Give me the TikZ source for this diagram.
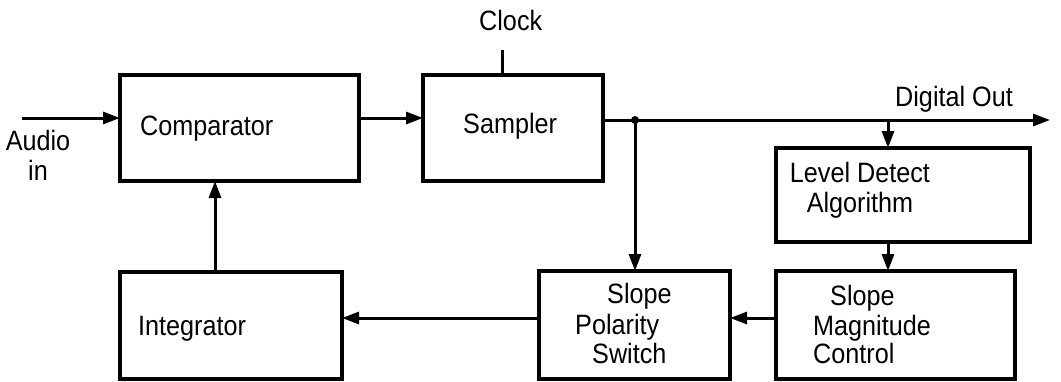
\documentclass[tikz,border=0pt]{standalone}
\usepackage{fontspec}
\setmainfont{Liberation Sans}[FakeStretch=0.9]
\usetikzlibrary{arrows.meta}
\begin{document}
\begin{tikzpicture}[x=1pt,y=-1pt,
  box/.style={draw, line width=3.2pt, inner sep=0pt, outer sep=0pt},
  conn/.style={line width=3pt},
  arr/.style={conn, -{Triangle[length=17pt,width=12pt]}},
  lbl/.style={anchor=base west, inner sep=0pt, font=\fontsize{28}{30}\selectfont},
  lblc/.style={anchor=base, inner sep=0pt, align=center, font=\fontsize{28}{30}\selectfont}]
\useasboundingbox (0,0) rectangle (1061,381);
% boxes
\node[box, minimum width=239pt, minimum height=106pt] (comp) at (239.5,128) {};
\node[box, minimum width=180pt, minimum height=106pt] (samp) at (513,128) {};
\node[box, minimum width=254pt, minimum height=94pt] (level) at (903,195) {};
\node[box, minimum width=239pt, minimum height=108pt] (mag) at (895.5,325) {};
\node[box, minimum width=191pt, minimum height=108pt] (pol) at (634.5,325) {};
\node[box, minimum width=222pt, minimum height=107pt] (integ) at (231,325.5) {};
% texts
\node[lbl] (tcomp) at (140,135) {Comparator};
\node[lbl] (tsamp) at (463,133) {Sampler};
\node[lbl] (tclock) at (479,30) {Clock};
\node[lbl] (tdout) at (895,106) {Digital Out};
\node[lblc] (taudio) at (38,180) {Audio\\in};
\node[lblc] (tlevel) at (860,212) {Level Detect\\Algorithm};
\node[lbl] (tmag1) at (830,305) {Slope};
\node[lbl] (tmag2) at (813,335) {Magnitude};
\node[lbl] (tmag3) at (813,363) {Control};
\node[lbl] (tpol1) at (607,303) {Slope};
\node[lbl] (tpol2) at (575,334) {Polarity};
\node[lbl] (tpol3) at (592,363) {Switch};
\node[lbl] (tint) at (138,335) {Integrator};
% helper coordinates
\coordinate (ain) at (22,118);
\coordinate (clk) at (502,50);
\coordinate (dout) at (1050,120);
\coordinate (j) at (635,120);
\coordinate (t1) at (888,120);
\coordinate (row) at (0,318);
\coordinate (col) at (215,0);
% connectors
\draw[arr] (ain) -- (ain -| comp.west);
\draw[arr] (comp.east |- ain) -- (samp.west |- ain);
\draw[conn] (samp.north -| clk) -- (clk);
\draw[arr] (samp.east |- dout) -- (dout);
\fill (j) circle (4pt);
\draw[arr] (j) -- (j |- pol.north);
\draw[arr] (t1) -- (t1 |- level.north);
\draw[arr] (level.south -| t1) -- (mag.north -| t1);
\draw[arr] (mag.west |- row) -- (pol.east |- row);
\draw[arr] (pol.west |- row) -- (integ.east |- row);
\draw[arr] (integ.north -| col) -- (comp.south -| col);
\end{tikzpicture}
\end{document}
